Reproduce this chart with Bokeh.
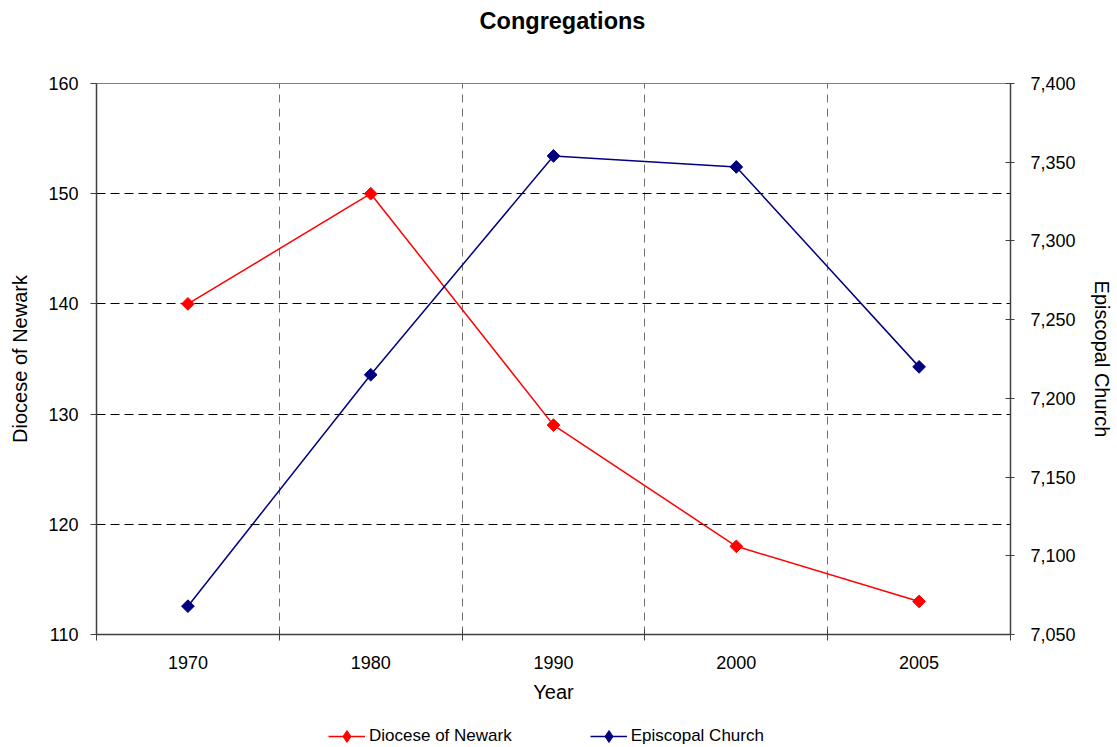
from bokeh.plotting import figure
from bokeh.models import (Range1d, LinearAxis, FixedTicker, NumeralTickFormatter,
                          Legend, LegendItem, Label)
from bokeh.layouts import column
from bokeh.embed import file_html
from bokeh.resources import INLINE
import numpy as np

# ---- data ----
years = ["1970", "1980", "1990", "2000", "2005"]
newark = [140, 150, 129, 118, 113]
episcopal = [7068, 7215, 7354, 7347, 7220]
left_ticks = [110, 120, 130, 140, 150, 160]
right_ticks = [7050, 7100, 7150, 7200, 7250, 7300, 7350, 7400]

FONT = "Liberation Sans"
RED = "#FF0000"
NAVY = "#000080"
W = 1117
TOP_H = 40
LEG_H = 32
MAIN_H = 747 - TOP_H - LEG_H
LEFT = 96
RIGHT = 107

xpos = [i + 0.5 for i in range(len(years))]
bounds = list(range(len(years) + 1))


def blank(h):
    f = figure(width=W, height=h, output_backend="svg", toolbar_location=None,
               x_range=Range1d(0, 1), y_range=Range1d(0, 1),
               x_axis_type=None, y_axis_type=None,
               min_border_left=LEFT, min_border_right=RIGHT,
               min_border_top=0, min_border_bottom=0)
    f.outline_line_color = None
    f.background_fill_color = "white"
    f.border_fill_color = "white"
    f.grid.visible = False
    return f


# ---- title strip ----
ptop = blank(TOP_H)
ptop.add_layout(Label(x=562 - LEFT, y=TOP_H - 20, x_units="screen", y_units="screen",
                      text="Congregations", text_align="center", text_baseline="middle",
                      text_font=FONT, text_font_size="23.5px", text_font_style="bold",
                      text_color="#000000"))

# ---- main chart ----
p = figure(width=W, height=MAIN_H, output_backend="svg", toolbar_location=None,
           x_range=Range1d(0, len(years)), y_range=Range1d(left_ticks[0], left_ticks[-1]),
           min_border_left=LEFT, min_border_right=RIGHT, min_border_top=83 - TOP_H,
           min_border_bottom=TOP_H + MAIN_H - 634)
p.extra_y_ranges = {"right": Range1d(right_ticks[0], right_ticks[-1])}
p.background_fill_color = "white"
p.border_fill_color = "white"
p.outline_line_color = "#808080"
p.outline_line_width = 1

p.ygrid.ticker = FixedTicker(ticks=left_ticks)
p.ygrid.grid_line_color = "#000000"
p.ygrid.grid_line_dash = "9 5"
p.ygrid.grid_line_width = 1
p.xgrid.ticker = FixedTicker(ticks=bounds)
p.xgrid.grid_line_color = "#707070"
p.xgrid.grid_line_dash = "8 6"
p.xgrid.grid_line_width = 1

xa = p.xaxis[0]
xa.ticker = FixedTicker(ticks=xpos, minor_ticks=bounds)
xa.major_label_overrides = {x: y for x, y in zip(xpos, years)}
xa.major_tick_in = 0
xa.major_tick_out = 0
xa.minor_tick_in = 5
xa.minor_tick_out = 6
xa.minor_tick_line_color = "#404040"
xa.axis_line_color = "#404040"
xa.axis_line_width = 1.5
xa.major_label_standoff = 15
xa.major_label_text_font = FONT
xa.major_label_text_font_size = "18px"
xa.major_label_text_color = "#000000"
xa.axis_label = "Year"
xa.axis_label_text_font = FONT
xa.axis_label_text_font_size = "20px"
xa.axis_label_text_font_style = "normal"
xa.axis_label_text_color = "#000000"
xa.axis_label_standoff = 9

ya = p.yaxis[0]
ya.ticker = FixedTicker(ticks=left_ticks)
ya.major_tick_in = 0
ya.major_tick_out = 6
ya.minor_tick_line_color = None
ya.major_tick_line_color = "#404040"
ya.axis_line_color = "#404040"
ya.axis_line_width = 1.5
ya.major_label_standoff = 12
ya.major_label_text_font = FONT
ya.major_label_text_font_size = "18px"
ya.major_label_text_color = "#000000"
ya.axis_label = "Diocese of Newark"
ya.axis_label_text_font = FONT
ya.axis_label_text_font_size = "20px"
ya.axis_label_text_font_style = "normal"
ya.axis_label_text_color = "#000000"
ya.axis_label_standoff = 14

ra = LinearAxis(y_range_name="right", ticker=FixedTicker(ticks=right_ticks),
                formatter=NumeralTickFormatter(format="0,0"))
ra.major_tick_in = 5
ra.major_tick_out = 4
ra.minor_tick_line_color = None
ra.major_tick_line_color = "#404040"
ra.axis_line_color = "#404040"
ra.axis_line_width = 1.5
ra.major_label_standoff = 16
ra.major_label_text_font = FONT
ra.major_label_text_font_size = "18px"
ra.major_label_text_color = "#000000"
ra.axis_label = "Episcopal Church"
ra.axis_label_text_font = FONT
ra.axis_label_text_font_size = "20px"
ra.axis_label_text_font_style = "normal"
ra.axis_label_text_color = "#000000"
ra.axis_label_standoff = 12
p.add_layout(ra, "right")

p.line(xpos, newark, line_color=RED, line_width=1.5)
p.scatter(xpos, newark, marker="square", angle=np.pi / 4, size=9,
          fill_color=RED, line_color=RED)
p.line(xpos, episcopal, y_range_name="right", line_color=NAVY, line_width=1.5)
p.scatter(xpos, episcopal, y_range_name="right", marker="square", angle=np.pi / 4,
          size=9, fill_color=NAVY, line_color=NAVY)

# ---- legend strip (series drawn out of this strip's visible range; only the key shows) ----
pleg = blank(LEG_H)
g1 = pleg.line(xpos, newark, line_color=RED, line_width=1.5)
m1 = pleg.scatter(xpos, newark, marker="diamond", size=12,
                  fill_color=RED, line_color=RED)
g2 = pleg.line(xpos, episcopal, line_color=NAVY, line_width=1.5)
m2 = pleg.scatter(xpos, episcopal, marker="diamond", size=12,
                  fill_color=NAVY, line_color=NAVY)
legend = Legend(items=[LegendItem(label="Diocese of Newark", renderers=[g1, m1]),
                       LegendItem(label="Episcopal Church", renderers=[g2, m2])],
                location=(328 - LEFT, -4), orientation="horizontal",
                padding=0, margin=0, spacing=78, glyph_width=37, glyph_height=30,
                label_height=18, label_standoff=4,
                label_text_font=FONT, label_text_font_size="17px",
                label_text_color="#000000",
                border_line_color=None, background_fill_alpha=0)
pleg.add_layout(legend)

layout = column(ptop, p, pleg, spacing=0)
open("out.html", "w").write(file_html(layout, INLINE))
